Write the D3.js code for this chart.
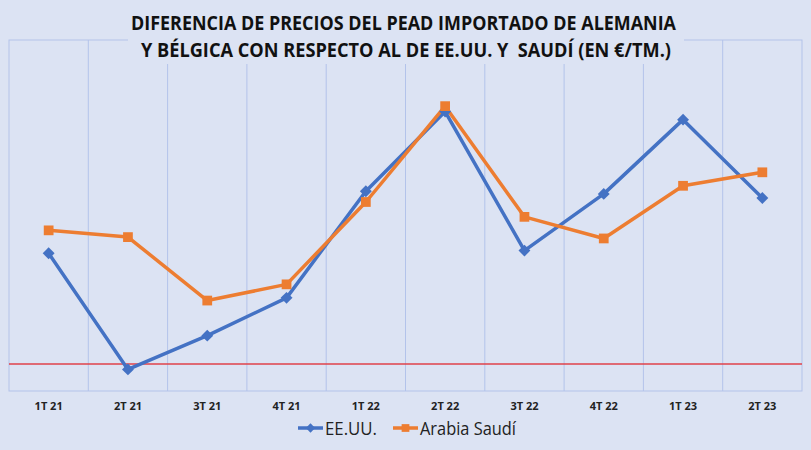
<!DOCTYPE html>
<html>
<head>
<meta charset="utf-8">
<script src="https://cdn.jsdelivr.net/npm/d3@7"></script>
<style>
  body { margin: 0; background: #dce3f3; }
  svg { display: block; }
</style>
</head>
<body>
<div id="chart"></div>
<script>
// Chart size
const width = 811;
const height = 450;

// Data (€/t, no axis shown so values are estimates)
const quarters = ["1T 21", "2T 21", "3T 21", "4T 21", "1T 22", "2T 22", "3T 22", "4T 22", "1T 23", "2T 23"];
const usaValues = [82, -4, 21, 49, 128, 187, 84, 126, 181, 123];
const saudiValues = [99, 94, 47, 59, 120, 191, 109, 93, 132, 142];
const seriesNames = ["EE.UU.", "Arabia Saudí"];
const titleLines = ["DIFERENCIA DE PRECIOS DEL PEAD IMPORTADO DE ALEMANIA",
                    "Y BÉLGICA CON RESPECTO AL DE EE.UU. Y  SAUDÍ (EN €/TM.)"];

const blue = "#4472c4";
const orange = "#ed7d31";
const gridColor = "#b3c3ea";
const font = "'Liberation Sans Narrow', 'Open Sans', sans-serif";

const plot = {left: 9, right: 802, top: 40, bottom: 391};

let svg = d3.select("#chart").append("svg")
            .attr("width", width)
            .attr("height", height)

svg.append("rect")
   .attr("width", width)
   .attr("height", height)
   .attr("fill", "#dce3f3")

let x = d3.scaleBand()
          .domain(quarters)
          .range([plot.left, plot.right])

let y = d3.scaleLinear()
          .domain([-20, 240])
          .range([plot.bottom, plot.top])

// Plot border + vertical gridlines at band edges
svg.append("rect")
   .attr("x", plot.left)
   .attr("y", plot.top)
   .attr("width", plot.right - plot.left)
   .attr("height", plot.bottom - plot.top)
   .attr("fill", "none")
   .attr("stroke", gridColor)
   .attr("stroke-width", 1)

svg.selectAll(".grid")
   .data(quarters.slice(1))
   .enter()
   .append("line")
   .attr("class", "grid")
   .attr("x1", d => x(d))
   .attr("x2", d => x(d))
   .attr("y1", plot.top)
   .attr("y2", plot.bottom)
   .attr("stroke", gridColor)
   .attr("stroke-width", 1)

// Zero line
svg.append("line")
   .attr("x1", plot.left)
   .attr("x2", plot.right)
   .attr("y1", y(0))
   .attr("y2", y(0))
   .attr("stroke", "#e0424a")
   .attr("stroke-width", 1.6)

// Category labels
let xAxis = d3.axisBottom(x).tickSize(0).tickPadding(0)
let xg = svg.append("g")
            .attr("transform", "translate(0," + (plot.bottom + 11) + ")")
            .call(xAxis)
xg.select(".domain").remove()
xg.selectAll("text")
  .attr("font-family", font)
  .attr("font-weight", "bold")
  .attr("font-size", 11)
  .attr("fill", "#222")

// Lines and markers
const cx = d => x(d) + x.bandwidth() / 2;
let lineGen = (vals) => d3.line()
                          .x((d, i) => cx(quarters[i]))
                          .y(d => y(d))(vals)

svg.append("path")
   .attr("d", lineGen(usaValues))
   .attr("fill", "none")
   .attr("stroke", blue)
   .attr("stroke-width", 3.5)
   .attr("stroke-linejoin", "round")

svg.append("path")
   .attr("d", lineGen(saudiValues))
   .attr("fill", "none")
   .attr("stroke", orange)
   .attr("stroke-width", 3.5)
   .attr("stroke-linejoin", "round")

const diamond = d3.symbol().type(d3.symbolDiamond2).size(90);
const square = d3.symbol().type(d3.symbolSquare).size(95);

svg.selectAll(".usa")
   .data(usaValues)
   .enter()
   .append("path")
   .attr("class", "usa")
   .attr("d", diamond)
   .attr("transform", (d, i) => "translate(" + cx(quarters[i]) + "," + y(d) + ")")
   .attr("fill", blue)

svg.selectAll(".saudi")
   .data(saudiValues)
   .enter()
   .append("path")
   .attr("class", "saudi")
   .attr("d", square)
   .attr("transform", (d, i) => "translate(" + cx(quarters[i]) + "," + y(d) + ")")
   .attr("fill", orange)

// Title with its own background box over the plot border
svg.append("rect")
   .attr("x", 128)
   .attr("y", 4)
   .attr("width", 556)
   .attr("height", 60)
   .attr("fill", "#dce3f3")

const titleWidths = [545, 530];
svg.selectAll(".title")
   .data(titleLines)
   .enter()
   .append("text")
   .attr("class", "title")
   .attr("x", (d, i) => i === 0 ? 131 : 141)
   .attr("y", (d, i) => 30 + i * 27)
   .attr("textLength", (d, i) => titleWidths[i])
   .attr("lengthAdjust", "spacingAndGlyphs")
   .attr("font-family", font)
   .attr("font-weight", "bold")
   .attr("font-size", 20)
   .attr("fill", "#111")
   .style("white-space", "pre")
   .text(d => d)

// Legend
const legendItems = [
  {name: seriesNames[0], color: blue, sym: "diamond", x: 298, w: 52},
  {name: seriesNames[1], color: orange, sym: "square", x: 393, w: 96}
];
let legend = svg.selectAll(".legend")
                .data(legendItems)
                .enter()
                .append("g")
                .attr("class", "legend")
                .attr("transform", d => "translate(" + d.x + ",428)")

legend.append("line")
      .attr("x1", 0)
      .attr("x2", 25)
      .attr("stroke", d => d.color)
      .attr("stroke-width", 3.5)

legend.append("path")
      .attr("d", d => d.sym === "diamond" ? d3.symbol().type(d3.symbolDiamond2).size(55)() : d3.symbol().type(d3.symbolSquare).size(60)())
      .attr("transform", "translate(12.5,0)")
      .attr("fill", d => d.color)

legend.append("text")
      .attr("x", 27)
      .attr("y", 6.5)
      .attr("textLength", d => d.w)
      .attr("lengthAdjust", "spacingAndGlyphs")
      .attr("font-family", font)
      .attr("font-size", 18)
      .attr("fill", "#222")
      .text(d => d.name)
</script>
</body>
</html>
